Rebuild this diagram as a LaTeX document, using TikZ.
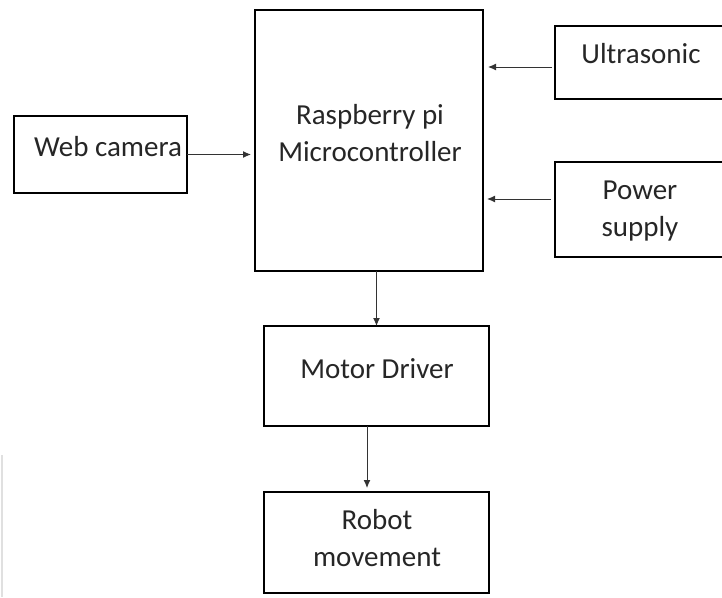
\documentclass[tikz,border=0pt]{standalone}
\usepackage{fontspec}
\setmainfont{Carlito}
\usepackage{tikz}
\usetikzlibrary{arrows.meta, positioning}
\tikzstyle{block} = [rectangle, draw=black, line width=2pt, outer sep=0pt,
                     inner sep=0pt]
\tikzstyle{txt}   = [align=center, font=\fontsize{29}{37}\selectfont,
                     text=black!85, inner sep=0pt]
\tikzstyle{arrow} = [line width=1pt, draw=black!80,
                     -{Latex[length=8pt,width=7pt]}]

\begin{document}
\begin{tikzpicture}[x=1pt, y=-1pt]
  \clip (0,0) rectangle (722,597);
  \draw[black!12, line width=1.5pt] (2,455) -- (2,597);

  \node[block, minimum width=228pt, minimum height=261pt] (rpi) at (369,140.5) {};
  \node[block, minimum width=173pt, minimum height=77pt,
        left=68pt of rpi, yshift=-14pt] (webcam) {};
  \node[block, minimum width=205pt, minimum height=73pt,
        right=72pt of rpi, yshift=78pt] (ultra) {};
  \node[block, minimum width=205pt, minimum height=95pt,
        right=72pt of rpi, yshift=-69pt] (power) {};
  \node[block, minimum width=225pt, minimum height=100pt,
        below=55pt of rpi, xshift=7.5pt] (motor) {};
  \node[block, minimum width=225pt, minimum height=101pt,
        below=66pt of motor] (robot) {};

  % texts
  \node[txt] (rpitxt)    at ([shift={(1pt,7pt)}]rpi.center)       {Raspberry pi\\Microcontroller};
  \node[txt] (webtxt)    at ([shift={(7.5pt,7.5pt)}]webcam.center) {Web camera};
  \node[txt] (ultratxt)  at ([shift={(-16.5pt,9pt)}]ultra.center)  {Ultrasonic};
  \node[txt] (powertxt)  at ([shift={(-17.5pt,-1.5pt)}]power.center) {Power\\supply};
  \node[txt] (motortxt)  at ([shift={(0.5pt,7pt)}]motor.center)    {Motor Driver};
  \node[txt] (robottxt)  at ([shift={(0.5pt,4.5pt)}]robot.center)  {Robot\\movement};

  \coordinate (usin)  at ([yshift=-4.5pt]ultra.west);
  \coordinate (pwin)  at ([yshift=10.5pt]power.west);
  \coordinate (mdout) at ([xshift=-9.5pt]motor.south);

  \draw[arrow, shorten >=4pt] (webcam.east) -- (webcam.east -| rpi.west);
  \draw[arrow, shorten <=3pt, shorten >=5pt] (usin) -- (usin -| rpi.east);
  \draw[arrow, shorten <=4pt, shorten >=4pt] (pwin) -- (pwin -| rpi.east);
  \draw[arrow] (rpi.south -| motor.north) -- (motor.north);
  \draw[arrow, shorten >=4pt] (mdout) -- (mdout |- robot.north);
\end{tikzpicture}
\end{document}
